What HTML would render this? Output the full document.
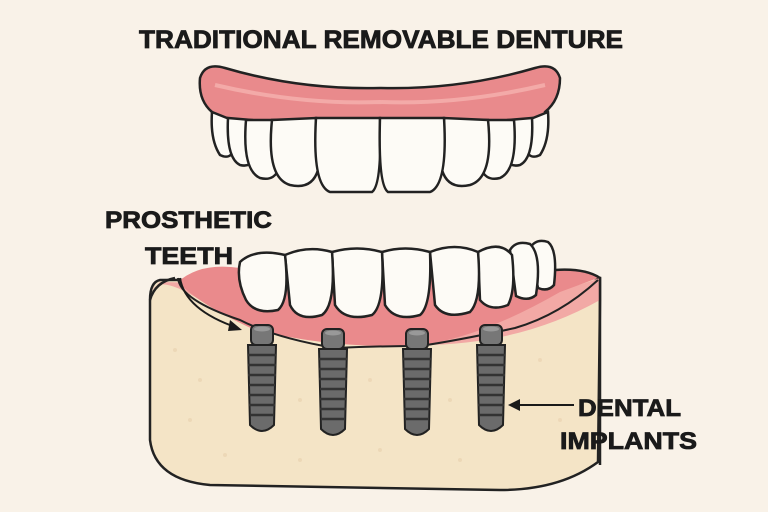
<!DOCTYPE html>
<html><head><style>body{margin:0;background:#f9f2e8}svg{display:block}</style></head><body>
<svg width="768" height="512" viewBox="0 0 768 512" xmlns="http://www.w3.org/2000/svg" font-family="Liberation Sans, sans-serif" font-weight="bold">
<defs>
<g id="imp">
<rect x="-11" y="0" width="22" height="20" rx="5" fill="#777" stroke="#222" stroke-width="2"/>
<ellipse cx="0" cy="4" rx="8" ry="2.5" fill="#999"/>
<path d="M-14 20 L14 20 L12 100 Q0 112 -12 100Z" fill="#6b6b6b" stroke="#222" stroke-width="2"/>
<g stroke="#333" stroke-width="2.5"><line x1="-14" y1="30" x2="14" y2="30"/><line x1="-14" y1="40" x2="14" y2="40"/><line x1="-14" y1="50" x2="14" y2="50"/><line x1="-13" y1="60" x2="13" y2="60"/><line x1="-13" y1="70" x2="13" y2="70"/><line x1="-13" y1="80" x2="13" y2="80"/><line x1="-12" y1="90" x2="12" y2="90"/></g>
</g>
</defs>
<rect width="768" height="512" fill="#f9f2e8"/>
<text x="381" y="48" font-size="25" text-anchor="middle" fill="#1a1a1a" stroke="#1a1a1a" stroke-width="0.8" textLength="484" lengthAdjust="spacingAndGlyphs">TRADITIONAL REMOVABLE DENTURE</text>
<!-- upper gum -->
<path d="M200 78 Q205 62 225 68 Q300 90 380 88 Q460 90 535 68 Q555 62 560 78 Q560 100 545 112 L545 135 L215 135 L212 112 Q198 100 200 78Z" fill="#e98a8c" stroke="#222" stroke-width="2.5"/>
<path d="M215 85 Q300 105 380 102 Q460 105 545 85" fill="none" stroke="#f3aaa8" stroke-width="4"/>
<!-- upper teeth -->
<g fill="#fdfbf6" stroke="#222" stroke-width="2.5">
<path d="M212 112 Q210 140 220 155 Q230 160 234 150 L232 120Z"/>
<path d="M548 112 Q550 140 540 155 Q530 160 526 150 L528 120Z"/>
<path d="M228 118 Q226 158 240 165 Q252 168 254 155 L252 120Z"/>
<path d="M532 118 Q534 158 520 165 Q508 168 506 155 L508 120Z"/>
<path d="M246 120 Q242 170 260 178 Q276 182 280 165 L278 120Z"/>
<path d="M514 120 Q518 170 500 178 Q484 182 480 165 L482 120Z"/>
<path d="M272 120 Q266 178 290 185 Q312 190 318 170 L316 118Z"/>
<path d="M488 120 Q494 178 470 185 Q448 190 442 170 L444 118Z"/>
<path d="M316 118 Q312 185 330 192 L372 192 Q382 185 380 118Z"/>
<path d="M444 118 Q448 185 430 192 L388 192 Q378 185 380 118Z"/>
</g>
<!-- lower bone -->
<path d="M160 280 Q150 282 150 300 L150 440 Q155 480 210 485 L500 490 Q560 490 598 462 L600 300 L600 278 Z" fill="#f4e4c6" stroke="#222" stroke-width="2.5"/>
<path d="M152 290 Q160 275 200 300 Q300 340 420 345 Q520 345 600 300 L600 278 Q580 285 560 290 L160 282Z" fill="#f2a9a5"/>
<path d="M178 282 Q200 305 255 330 Q340 350 420 345 Q480 338 560 292 L598 278 Q575 265 555 270 L240 268 Q200 262 178 282Z" fill="#ea8a8c"/>
<path d="M178 278 Q180 300 240 320 Q275 338 335 348 Q380 346 420 346 Q460 340 515 328 Q560 315 598 280" fill="none" stroke="#222" stroke-width="2"/>
<path d="M150 300 Q155 282 175 278 M555 270 Q585 268 600 278 L600 465" fill="none" stroke="#222" stroke-width="2.5"/>
<g fill="#ead3b2" opacity=".7">
<circle cx="175" cy="350" r="2"/><circle cx="200" cy="380" r="2"/><circle cx="190" cy="420" r="2"/><circle cx="225" cy="455" r="2"/><circle cx="300" cy="400" r="2"/><circle cx="370" cy="380" r="2"/><circle cx="380" cy="450" r="2"/><circle cx="450" cy="400" r="2"/><circle cx="540" cy="360" r="2"/><circle cx="560" cy="420" r="2"/><circle cx="300" cy="460" r="2"/><circle cx="460" cy="460" r="2"/>
</g>
<!-- lower teeth -->
<g fill="#fdfbf6" stroke="#222" stroke-width="2.5">
<path d="M530 248 Q536 238 548 242 Q558 250 554 285 Q548 292 538 288Z"/>
<path d="M510 250 Q516 240 530 244 Q542 255 536 295 Q528 302 516 296Z"/>
<path d="M478 252 Q500 240 512 255 Q516 290 508 305 Q490 312 480 300Z"/>
<path d="M430 252 Q455 242 478 252 Q482 300 470 312 Q445 320 435 305Z"/>
<path d="M382 252 Q405 245 430 252 Q432 305 420 315 Q395 322 385 305Z"/>
<path d="M332 252 Q357 245 382 252 Q385 305 372 315 Q345 322 335 305Z"/>
<path d="M285 255 Q308 245 332 252 Q336 305 322 315 Q298 322 290 305Z"/>
<path d="M240 262 Q255 248 285 255 Q290 300 278 310 Q255 315 246 300 Q236 280 240 262Z"/>
</g>
<use href="#imp" transform="translate(262,325)"/>
<use href="#imp" transform="translate(333,329)"/>
<use href="#imp" transform="translate(417,329)"/>
<use href="#imp" transform="translate(491,325)"/>
<!-- labels -->
<g fill="#1a1a1a" stroke="#1a1a1a" stroke-width="0.8" font-size="24">
<text x="105" y="228" textLength="167" lengthAdjust="spacingAndGlyphs">PROSTHETIC</text>
<text x="145" y="264" textLength="88" lengthAdjust="spacingAndGlyphs">TEETH</text>
<text x="578" y="416" textLength="103" lengthAdjust="spacingAndGlyphs">DENTAL</text>
<text x="560" y="449" textLength="137" lengthAdjust="spacingAndGlyphs">IMPLANTS</text>
</g>
<path d="M180 278 Q185 310 238 328" fill="none" stroke="#1a1a1a" stroke-width="2"/>
<path d="M242 330 L230 320 L228 331Z" fill="#1a1a1a"/>
<line x1="574" y1="405" x2="515" y2="405" stroke="#1a1a1a" stroke-width="2"/>
<path d="M508 405 L520 399 L520 411Z" fill="#1a1a1a"/>
</svg>
</body></html>
